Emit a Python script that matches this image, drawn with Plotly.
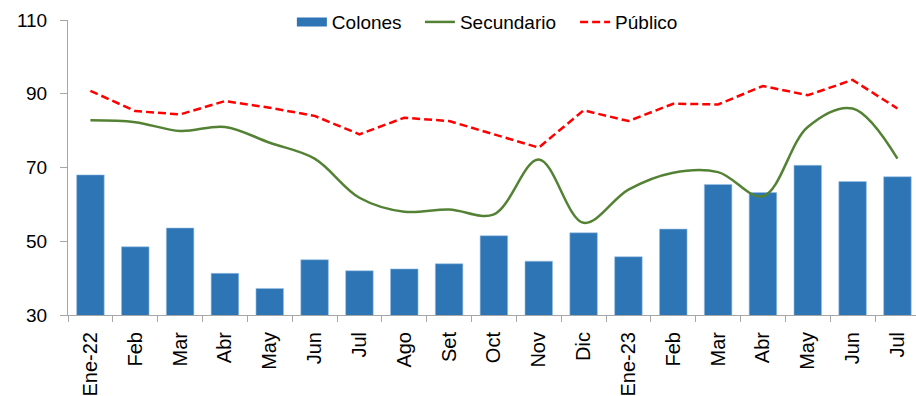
import plotly.graph_objects as go

# Monthly series, January 2022 to July 2023
meses = ["Ene-22", "Feb", "Mar", "Abr", "May", "Jun", "Jul", "Ago", "Set",
         "Oct", "Nov", "Dic", "Ene-23", "Feb", "Mar", "Abr", "May", "Jun", "Jul"]
colones = [68.0, 48.5, 53.6, 41.3, 37.2, 45.0, 42.0, 42.5, 43.9,
           51.5, 44.6, 52.3, 45.8, 53.3, 65.4, 63.2, 70.6, 66.2, 67.5]
secundario = [82.8, 82.3, 79.9, 81.0, 76.7, 72.4, 61.8, 58.0, 58.6,
              57.3, 72.2, 55.0, 64.0, 68.6, 68.75, 62.2, 81.0, 86.0, 72.4]
publico = [90.8, 85.3, 84.4, 88.0, 86.2, 84.0, 79.0, 83.5, 82.6,
           79.0, 75.4, 85.5, 82.6, 87.3, 87.1, 92.1, 89.6, 93.75, 86.0]
y_ticks = [30, 50, 70, 90, 110]

x = list(range(len(meses)))
FONT = "Liberation Sans, Arial, sans-serif"
AXIS_GREY = "#A6A6A6"
BLUE = "#2E75B6"

fig = go.Figure()
fig.add_trace(go.Bar(
    x=x, y=colones, name="Colones", showlegend=False,
    marker=dict(color=BLUE, line=dict(color="#9DC3E6", width=0.6)),
))
# wide flat swatch for the bar series in its legend
fig.add_trace(go.Scatter(
    x=[None], y=[None], name="Colones", mode="lines",
    line=dict(color=BLUE, width=9), legend="legend",
))
fig.add_trace(go.Scatter(
    x=x, y=secundario, name="Secundario", mode="lines", legend="legend2",
    line=dict(color="#548235", width=2.5, shape="spline", smoothing=1.0),
))
fig.add_trace(go.Scatter(
    x=x, y=publico, name="Público", mode="lines", legend="legend3",
    line=dict(color="#FF0000", width=2.5, dash="8px,4px"),
))

legend_common = dict(
    orientation="h", xanchor="left", y=0.993, yanchor="middle",
    font=dict(size=19), bgcolor="rgba(0,0,0,0)", itemwidth=30,
)

fig.update_layout(
    width=916, height=396,
    margin=dict(l=68, r=0, t=20, b=81),
    paper_bgcolor="white", plot_bgcolor="white",
    font=dict(family=FONT, size=18, color="#000000"),
    bargap=0.385,
    showlegend=True,
    legend=dict(x=0.264, **legend_common),
    legend2=dict(x=0.415, **legend_common),
    legend3=dict(x=0.598, **legend_common),
    xaxis=dict(
        range=[-0.5, 18.414], automargin=False,
        tickmode="array", tickvals=x, ticktext=meses,
        tickangle=-90, ticks="", ticklabelstandoff=8,
        showline=True, linecolor=AXIS_GREY, linewidth=1,
        showgrid=False, zeroline=False,
        tickfont=dict(size=20),
        minor=dict(
            tickmode="array",
            tickvals=[i - 0.5 for i in range(len(meses) + 1)],
            ticks="outside", ticklen=6, tickcolor=AXIS_GREY, tickwidth=1,
            showgrid=False,
        ),
    ),
    yaxis=dict(
        range=[30, 110], automargin=False,
        tickmode="array", tickvals=y_ticks,
        ticks="outside", ticklen=7, tickcolor=AXIS_GREY, tickwidth=1,
        ticklabelstandoff=9,
        showline=True, linecolor=AXIS_GREY, linewidth=1,
        showgrid=False, zeroline=False,
        tickfont=dict(size=19),
    ),
)

fig.write_html("out.html")
